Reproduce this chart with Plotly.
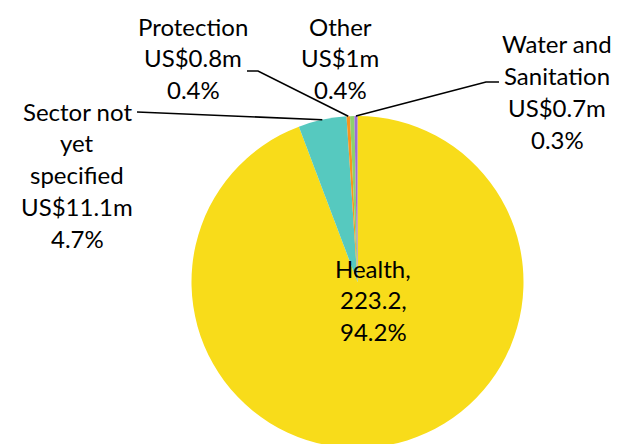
import math
import plotly.graph_objects as go

# ---- data ----
sectors = ["Health", "Sector not yet specified", "Protection", "Other", "Water and Sanitation"]
funding = [223.2, 11.1, 0.8, 1.0, 0.7]
amount_labels = ["223.2,", "US$11.1m", "US$0.8m", "US$1m", "US$0.7m"]
share_labels = ["94.2%", "4.7%", "0.4%", "0.4%", "0.3%"]
name_lines = [["Health,"], ["Sector not", "yet", "specified"], ["Protection"], ["Other"], ["Water and", "Sanitation"]]
colors = ["#F8DC1A", "#56C9BF", "#F7941E", "#8DD16E", "#9C6BD8"]

# ---- layout geometry (pixels) ----
W, H = 617, 448
cx, cy, R = 357.5, 282.0, 166.0
FONT = dict(family="Lato, 'Open Sans', sans-serif", size=24, color="#000000")
LINE_H = 31.8

def px(x, y):
    return x / W, 1 - y / H

fig = go.Figure(go.Pie(
    labels=sectors, values=funding, sort=False, direction="clockwise", rotation=0,
    marker=dict(colors=colors, line=dict(width=0)),
    textinfo="none", hoverinfo="label+value+percent", showlegend=False,
    domain=dict(x=[(cx - R) / W, (cx + R) / W], y=[1 - (cy + R) / H, 1 - (cy - R) / H]),
))

# label blocks: center x, first line y (pixels)
label_pos = {
    0: (373, 268),
    1: (77, 111),
    2: (193, 26),
    3: (340, 26),
    4: (557, 44),
}
annotations = []
for i, (lx, ly) in label_pos.items():
    lines = name_lines[i] + [amount_labels[i], share_labels[i]]
    for k, t in enumerate(lines):
        x, y = px(lx, ly + k * LINE_H)
        annotations.append(dict(text=t, x=x, y=y, xref="paper", yref="paper",
                                xanchor="center", yanchor="middle", showarrow=False, font=FONT))

# leader lines: from label-side points to slice mid-angle on the rim
total = sum(funding)
cum = 0.0
mid_angles = []
for v in funding:
    mid_angles.append((cum + v / 2) / total * 2 * math.pi)
    cum += v

leader_starts = {
    1: [(137, 112)],
    2: [(247, 71), (258, 71)],
    4: [(499, 82), (486, 82)],
}
shapes = []
for i, pts in leader_starts.items():
    a = mid_angles[i]
    ex, ey = cx + R * math.sin(a), cy - R * math.cos(a)
    allpts = pts + [(ex, ey)]
    path = "M " + " L ".join(f"{px(x, y)[0]:.5f},{px(x, y)[1]:.5f}" for x, y in allpts)
    shapes.append(dict(type="path", path=path, xref="paper", yref="paper",
                       line=dict(color="black", width=1.6)))

fig.update_layout(
    width=W, height=H, margin=dict(l=0, r=0, t=0, b=0),
    paper_bgcolor="white", plot_bgcolor="white",
    annotations=annotations, shapes=shapes,
)

fig.write_html("out.html", config={"displayModeBar": False},
               post_script="document.body.style.margin='0';document.body.style.overflow='hidden';")
